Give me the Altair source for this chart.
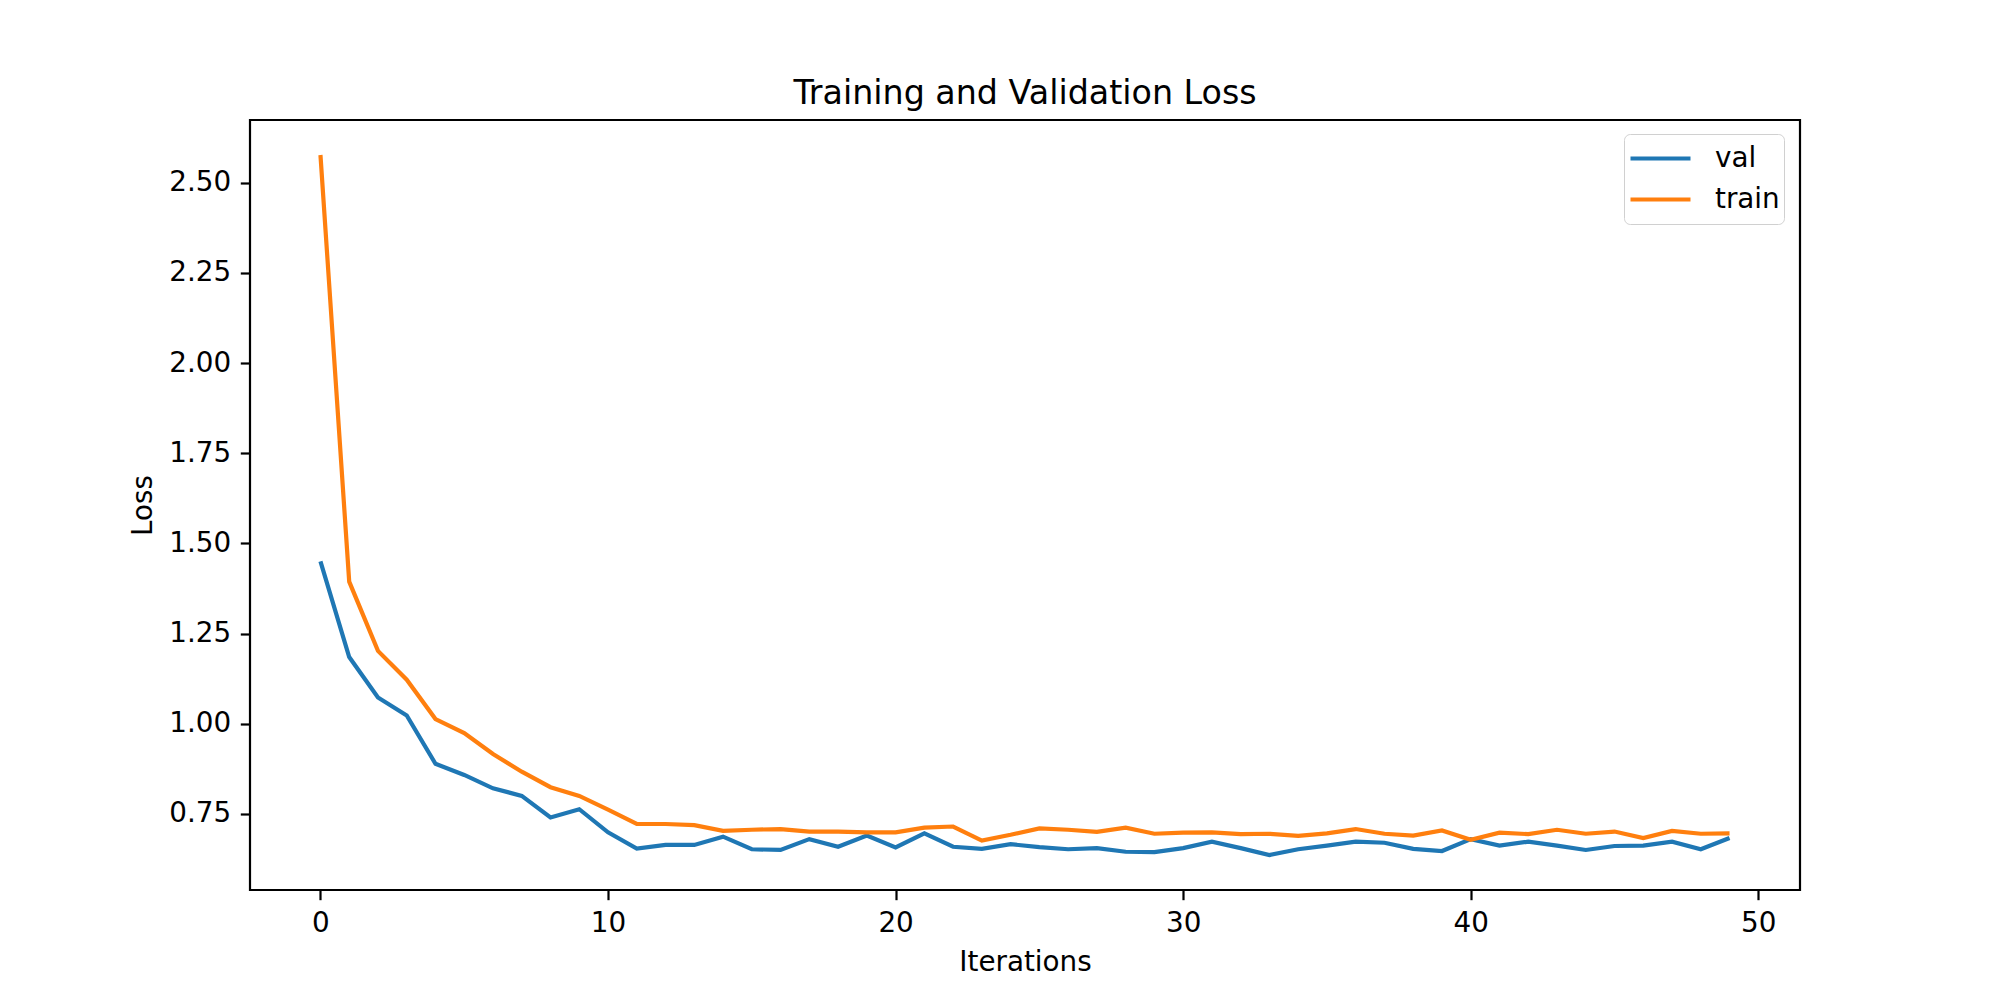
import altair as alt
import pandas as pd

iterations = list(range(50))

val_loss = [1.450, 1.185, 1.073, 1.023, 0.889, 0.858, 0.821, 0.800, 0.740, 0.763,
            0.699, 0.654, 0.664, 0.664, 0.687, 0.652, 0.650, 0.680, 0.659, 0.690,
            0.657, 0.696, 0.659, 0.653, 0.666, 0.658, 0.652, 0.655, 0.645, 0.644,
            0.655, 0.673, 0.655, 0.636, 0.652, 0.662, 0.673, 0.670, 0.653, 0.647,
            0.680, 0.662, 0.673, 0.662, 0.650, 0.661, 0.662, 0.673, 0.652, 0.683]

train_loss = [2.577, 1.394, 1.202, 1.122, 1.013, 0.974, 0.916, 0.867, 0.824, 0.800,
              0.762, 0.722, 0.722, 0.719, 0.703, 0.706, 0.708, 0.701, 0.701, 0.699,
              0.699, 0.712, 0.715, 0.676, 0.692, 0.710, 0.706, 0.700, 0.712, 0.695,
              0.698, 0.699, 0.694, 0.695, 0.689, 0.696, 0.708, 0.695, 0.690, 0.704,
              0.678, 0.698, 0.694, 0.706, 0.695, 0.701, 0.683, 0.703, 0.695, 0.696]

series_names = ["val", "train"]
series_colors = ["#1f77b4", "#ff7f0e"]
x_ticks = [0, 10, 20, 30, 40, 50]
y_ticks = [0.75, 1.00, 1.25, 1.50, 1.75, 2.00, 2.25, 2.50]

rows = []
for name, values in zip(series_names, [val_loss, train_loss]):
    for i, v in zip(iterations, values):
        rows.append({"iteration": i, "loss": v, "series": name, "order": series_names.index(name)})
df = pd.DataFrame(rows)

FONT = "DejaVu Sans"
FS = 27.8

chart = alt.Chart(df).mark_line(strokeWidth=4.2).encode(
    x=alt.X("iteration:Q",
            scale=alt.Scale(domain=[-2.45, 51.45], nice=False, zero=False),
            axis=alt.Axis(values=x_ticks, format="d", title="Iterations",
                          titlePadding=11)),
    y=alt.Y("loss:Q",
            scale=alt.Scale(domain=[0.539, 2.674], nice=False, zero=False),
            axis=alt.Axis(values=y_ticks, format=".2f", title="Loss",
                          titlePadding=11)),
    color=alt.Color("series:N",
                    scale=alt.Scale(domain=series_names, range=series_colors),
                    legend=alt.Legend(title=None, orient="none", legendX=1374, legendY=14,
                                      symbolType="stroke", symbolSize=3600,
                                      symbolStrokeWidth=4.2, labelFont=FONT,
                                      labelFontSize=FS, labelColor="black",
                                      labelOffset=22, padding=4, rowPadding=0,
                                      clipHeight=41,
                                      fillColor="white", strokeColor="#d0d0d0",
                                      cornerRadius=6)),
    detail="series:N",
    order="order:Q",
).properties(
    width=1550,
    height=770,
    title=alt.TitleParams("Training and Validation Loss", font=FONT, fontSize=33.3,
                          fontWeight="normal", color="black", anchor="middle",
                          baseline="alphabetic", offset=-17),
    autosize=alt.AutoSizeParams(type="none"),
    padding={"left": 242, "top": 112, "right": 190, "bottom": 100},
).configure_view(
    stroke="black", strokeWidth=2.2
).configure_axis(
    grid=False, domain=False, tickColor="black", tickWidth=2.2, tickSize=9.7,
    labelPadding=9.7, labelFont=FONT, labelFontSize=FS, labelColor="black",
    titleFont=FONT, titleFontSize=FS, titleFontWeight="normal", titleColor="black",
)

chart.save("out.html", embed_options={"renderer": "svg", "actions": False})
